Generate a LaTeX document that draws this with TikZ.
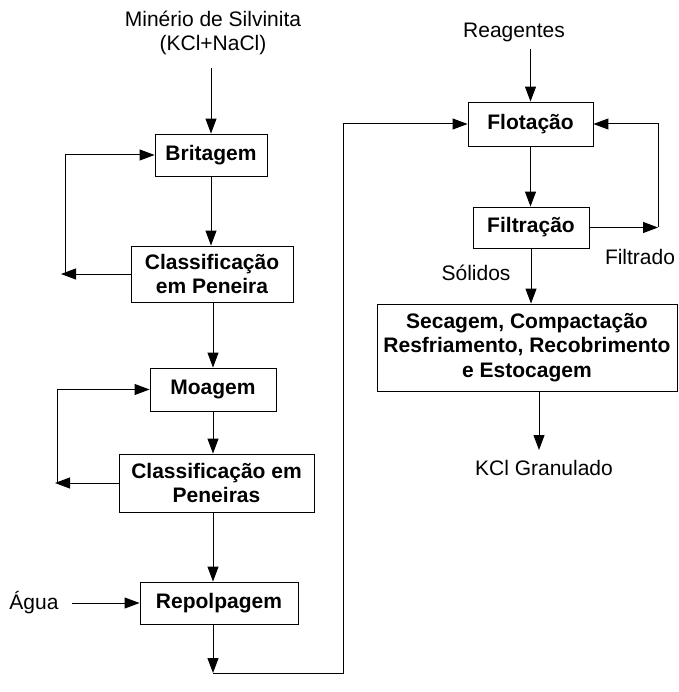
\documentclass[tikz,border=0pt]{standalone}
\usepackage{fontspec}
\setmainfont{Liberation Sans}
\usetikzlibrary{arrows.meta}
\begin{document}
\begin{tikzpicture}[x=1pt,y=-1pt,
  every node/.style={font=\fontsize{21}{24.5}\selectfont, inner sep=0pt},
  procbox/.style={draw, line width=0.9pt, align=center,
    font=\fontsize{21}{24.5}\selectfont\bfseries},
  label/.style={align=center},
  flow/.style={line width=1pt},
  arr/.style={flow, -{Triangle[length=15pt,width=11pt]}}]
\useasboundingbox (0,0) rectangle (678,692);

% process boxes, left column
\node[procbox, minimum width=112, minimum height=42] (brit) at (211,155) {Britagem};
\node[procbox, minimum width=162, minimum height=56] (class1) at (212,274) {Classificação\\em Peneira};
\node[procbox, minimum width=126, minimum height=43] (moag) at (213,389.5) {Moagem};
\node[procbox, minimum width=195, minimum height=58] (class2) at (216.5,483) {Classificação em\\Peneiras};
\node[procbox, minimum width=158, minimum height=42] (repol) at (219,603) {Repolpagem};

% process boxes, right column
\node[procbox, minimum width=125, minimum height=44] (flot) at (530.5,124) {Flotação};
\node[procbox, minimum width=116, minimum height=41] (filt) at (531,227.5) {Filtração};
\node[procbox, minimum width=300, minimum height=87] (sec) at (527,347.5) {Secagem, Compactação\\Resfriamento, Recobrimento\\e Estocagem};

% stream labels
\node[label] (src) at (213,33) {Minério de Silvinita\\(KCl+NaCl)};
\node[label] (agua) at (34,603) {Água};
\node[label] (reag) at (514,32) {Reagentes};
\node[label] (filtrado) at (640,257) {Filtrado};
\node[label] (solidos) at (476,273) {Sólidos};
\node[label] (kcl) at (544,468) {KCl Granulado};

% free ends of connectors
\coordinate (srcout) at (211,68);
\coordinate (l1tip) at (61,274);
\coordinate (l1) at (65,274);
\coordinate (l2tip) at (55,483);
\coordinate (l2) at (57,483);
\coordinate (aguaout) at (72,603);
\coordinate (bot) at (213,673);
\coordinate (botr) at (343,673);
\coordinate (reagout) at (530.5,49);
\coordinate (fr) at (658,227.5);
\coordinate (kclin) at (539,450);

% left column flow
\draw[arr] (srcout) -- (brit.north);
\draw[arr] (brit.south) -- (brit.south |- class1.north);
\draw[arr] (class1.west) -- (l1tip);
\draw[arr] (l1) |- (brit.west);
\draw[arr] (class1.south -| moag.north) -- (moag.north);
\draw[arr] (moag.south) -- (moag.south |- class2.north);
\draw[arr] (class2.west) -- (l2tip);
\draw[arr] (l2) |- (moag.west);
\draw[arr] (moag.south |- class2.south) -- (moag.south |- repol.north);
\draw[arr] (aguaout) -- (repol.west);
\draw[arr] (moag.south |- repol.south) -- (bot);
\draw[arr] (bot) -- (botr) |- (flot.west);

% right column flow
\draw[arr] (reagout) -- (flot.north);
\draw[arr] (flot.south) -- (flot.south |- filt.north);
\draw[arr] (filt.east) -- (fr);
\draw[arr] (fr) |- (flot.east);
\draw[arr] (filt.south) -- (filt.south |- sec.north);
\draw[arr] (kclin |- sec.south) -- (kclin);
\end{tikzpicture}
\end{document}
